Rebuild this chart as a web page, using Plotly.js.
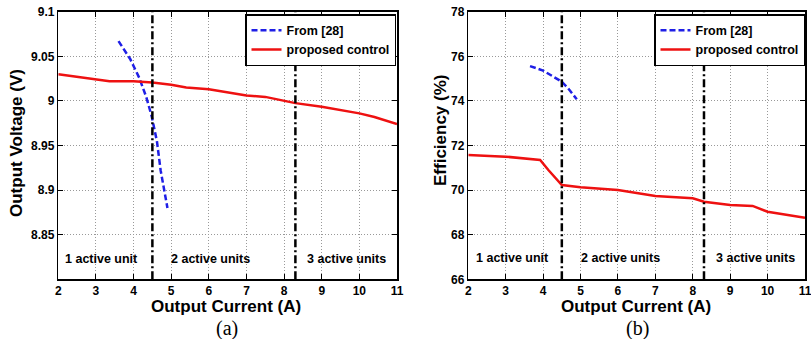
<!DOCTYPE html>
<html>
<head>
<meta charset="utf-8">
<script src="https://cdn.plot.ly/plotly-3.0.1.min.js"></script>
<style>html,body{margin:0;padding:0;background:#fff;}#chart{width:811px;height:339px;}</style>
</head>
<body>
<div id="chart"></div>
<script>
// Panel (a): output voltage
const vRefX = [3.6, 3.91, 4.15, 4.34, 4.48, 4.62, 4.72, 4.81, 4.9];
const vRefY = [9.067, 9.047, 9.026, 9.004, 8.983, 8.955, 8.922, 8.903, 8.880];
const vPropX = [2, 3, 3.36, 4, 4.5, 5, 5.4, 6, 6.5, 7, 7.5, 8, 8.3, 9, 9.3, 10, 10.4, 11];
const vPropY = [9.030, 9.024, 9.022, 9.022, 9.0205, 9.018, 9.015, 9.013, 9.0095, 9.006, 9.0045, 9.0, 8.9975, 8.9935, 8.9915, 8.986, 8.982, 8.974];

// Panel (b): efficiency
const eRefX = [3.65, 4.0, 4.5, 4.67, 4.9];
const eRefY = [75.56, 75.36, 74.86, 74.56, 74.07];
const ePropX = [2, 3, 3.92, 4.14, 4.5, 5, 6, 7, 8, 8.3, 9, 9.6, 10, 11];
const ePropY = [71.57, 71.5, 71.35, 70.9, 70.23, 70.13, 70.0, 69.74, 69.63, 69.48, 69.33, 69.29, 69.03, 68.76];

const xTicks = [2, 3, 4, 5, 6, 7, 8, 9, 10, 11];
const vTicks = [8.85, 8.9, 8.95, 9, 9.05, 9.1];
const vTickText = ['8.85', '8.9', '8.95', '9', '9.05', '9.1'];
const eTicks = [66, 68, 70, 72, 74, 76, 78];

const switchPoints = [4.5, 8.3];
const regionLabels = ['1 active unit', '2 active units', '3 active units'];
const regionX = [3.14, 6.04, 9.66];
const seriesNames = ['From [28]', 'proposed control'];
const panelLabels = ['(a)', '(b)'];

const W = 811, H = 339;
const px = v => v / W;
const py = v => 1 - v / H;

const FONT = 'Liberation Sans, Arial, sans-serif';
const blue = '#1f1fe6';
const red = '#ee1111';

const traces = [
  {x: vRefX, y: vRefY, xaxis: 'x', yaxis: 'y', mode: 'lines', name: seriesNames[0], legend: 'legend',
   line: {color: blue, width: 2.5, dash: '6px,3px'}},
  {x: vPropX, y: vPropY, xaxis: 'x', yaxis: 'y', mode: 'lines', name: seriesNames[1], legend: 'legend',
   line: {color: red, width: 2.5}},
  {x: eRefX, y: eRefY, xaxis: 'x2', yaxis: 'y2', mode: 'lines', name: seriesNames[0], legend: 'legend2',
   line: {color: blue, width: 2.5, dash: '6px,3px'}},
  {x: ePropX, y: ePropY, xaxis: 'x2', yaxis: 'y2', mode: 'lines', name: seriesNames[1], legend: 'legend2',
   line: {color: red, width: 2.5}}
];

const axisCommon = {
  showline: true, linecolor: '#000', linewidth: 1.5, mirror: 'ticks',
  ticks: 'inside', ticklen: 5, tickcolor: '#000', tickwidth: 1,
  showgrid: true, gridcolor: '#999', gridwidth: 1, griddash: '1px,2px',
  zeroline: false, fixedrange: true, ticklabeloverflow: 'allow',
  tickfont: {family: FONT, size: 12, color: '#000', weight: 'bold'}
};

const yDom = [py(279.3), py(11.7)];

const layout = {
  width: W, height: H,
  margin: {l: 0, r: 0, t: 0, b: 0},
  paper_bgcolor: '#fff', plot_bgcolor: '#fff',
  showlegend: true,
  xaxis: Object.assign({}, axisCommon, {domain: [px(58.3), px(397)], range: [2, 11], tickvals: xTicks, anchor: 'y'}),
  yaxis: Object.assign({}, axisCommon, {domain: yDom, range: [8.8, 9.1], tickvals: vTicks, ticktext: vTickText, anchor: 'x'}),
  xaxis2: Object.assign({}, axisCommon, {domain: [px(468.3), px(805)], range: [2, 11], tickvals: xTicks, anchor: 'y2'}),
  yaxis2: Object.assign({}, axisCommon, {domain: yDom, range: [66, 78], tickvals: eTicks, anchor: 'x2'}),
  legend: {x: px(396), y: py(14), xanchor: 'right', yanchor: 'top', bgcolor: '#fff',
    bordercolor: '#000', borderwidth: 1.5, font: {family: FONT, size: 12.5, color: '#000', weight: 'bold'},
    tracegroupgap: 0, itemwidth: 30},
  legend2: {x: px(805), y: py(14), xanchor: 'right', yanchor: 'top', bgcolor: '#fff',
    bordercolor: '#000', borderwidth: 1.5, font: {family: FONT, size: 12.5, color: '#000', weight: 'bold'},
    tracegroupgap: 0, itemwidth: 30},
  shapes: [],
  annotations: []
};

// vertical switching lines
[['x', 'y'], ['x2', 'y2']].forEach(([xa, ya]) => {
  switchPoints.forEach(s => {
    layout.shapes.push({type: 'line', xref: xa, yref: ya + ' domain', x0: s, x1: s, y0: 0, y1: 1,
      line: {color: '#000', width: 2.5, dash: '8px,3px,2px,3px'}});
  });
});

// region labels
regionLabels.forEach((t, i) => {
  layout.annotations.push({xref: 'x', yref: 'y', x: regionX[i], y: 8.823, text: t, showarrow: false,
    font: {family: FONT, size: 12.5, color: '#000', weight: 'bold'}});
  layout.annotations.push({xref: 'x2', yref: 'y2', x: regionX[i] + 0.03, y: 66.96, text: t, showarrow: false,
    font: {family: FONT, size: 12.5, color: '#000', weight: 'bold'}});
});

// axis titles (as annotations for precise placement)
const titleFont = {family: FONT, size: 17, color: '#000', weight: 'bold'};
layout.annotations.push({xref: 'paper', yref: 'paper', x: px(226), y: py(306), text: 'Output Current (A)', showarrow: false, font: titleFont, xanchor: 'center', yanchor: 'middle', borderpad: 0});
layout.annotations.push({xref: 'paper', yref: 'paper', x: px(636), y: py(306), text: 'Output Current (A)', showarrow: false, font: titleFont, xanchor: 'center', yanchor: 'middle', borderpad: 0});
layout.annotations.push({xref: 'paper', yref: 'paper', x: px(16), y: py(143), text: 'Output Voltage (V)', textangle: -90, showarrow: false, font: titleFont, xanchor: 'center', yanchor: 'middle', borderpad: 0});
layout.annotations.push({xref: 'paper', yref: 'paper', x: px(440), y: py(131), text: 'Efficiency (%)', textangle: -90, showarrow: false, font: titleFont, xanchor: 'center', yanchor: 'middle', borderpad: 0});

// panel labels
const serif = {family: 'Liberation Serif, Times New Roman, serif', size: 20, color: '#000'};
layout.annotations.push({xref: 'paper', yref: 'paper', x: px(227), y: py(328), text: panelLabels[0], showarrow: false, font: serif, xanchor: 'center', yanchor: 'middle', borderpad: 0});
layout.annotations.push({xref: 'paper', yref: 'paper', x: px(637), y: py(328), text: panelLabels[1], showarrow: false, font: serif, xanchor: 'center', yanchor: 'middle', borderpad: 0});

Plotly.newPlot('chart', traces, layout, {displayModeBar: false, staticPlot: true});
</script>
</body>
</html>
